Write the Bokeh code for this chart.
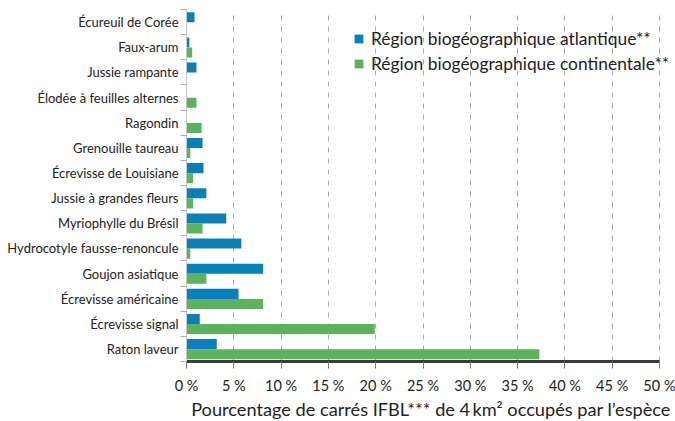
from bokeh.plotting import figure
from bokeh.models import Range1d, FixedTicker, ColumnDataSource, Legend, LegendItem
from bokeh.embed import file_html
from bokeh.resources import INLINE

# Data (top to bottom as in the chart)
species = ["Écureuil de Corée", "Faux-arum", "Jussie rampante", "Élodée à feuilles alternes",
           "Ragondin", "Grenouille taureau", "Écrevisse de Louisiane", "Jussie à grandes fleurs",
           "Myriophylle du Brésil", "Hydrocotyle fausse-renoncule", "Goujon asiatique",
           "Écrevisse américaine", "Écrevisse signal", "Raton laveur"]
atlantique = [0.85, 0.3, 1.05, 0.0, 0.0, 1.7, 1.8, 2.1, 4.2, 5.8, 8.1, 5.5, 1.4, 3.2]
continentale = [0.0, 0.6, 0.0, 1.05, 1.6, 0.4, 0.7, 0.7, 1.7, 0.4, 2.1, 8.1, 19.9, 37.3]
series_names = ["Région biogéographique atlantique**", "Région biogéographique continentale**"]
xticks = [0, 5, 10, 15, 20, 25, 30, 35, 40, 45, 50]
xtick_labels = ["0\u00a0%", "5\u00a0%", "10\u00a0%", "15\u00a0%", "20\u00a0%", "25\u00a0%",
                "30\u00a0%", "35\u00a0%", "40\u00a0%", "45\u00a0%", "50\u00a0%"]
x_title = "Pourcentage de carrés IFBL*** de 4\u2009km² occupés par l’espèce"

FONT = "Lato"
BLUE = "#0a80b8"
GREEN = "#5bb45b"

n = len(species)
ypos = [n - 1 - i for i in range(n)]  # top item highest

src = ColumnDataSource(dict(
    y_a=[y + 0.19 for y in ypos],
    y_c=[y - 0.21 for y in ypos],
    a=atlantique, c=continentale))

# frame extends a little past 50 % so the legend text is not clipped
FW = 489
x_end = 50 * FW / 473

p = figure(frame_width=FW, frame_height=352, output_backend="svg", toolbar_location=None,
           x_range=Range1d(0, x_end), y_range=Range1d(-0.5, n - 0.5),
           min_border_left=186, min_border_right=0, min_border_top=9, min_border_bottom=0)
p.outline_line_color = None
p.background_fill_color = "white"

ra = p.hbar(y="y_a", right="a", left=0, height=0.4, source=src, fill_color=BLUE, line_color=None)
rc = p.hbar(y="y_c", right="c", left=0, height=0.4, source=src, fill_color=GREEN, line_color=None)

# x axis
p.xaxis.bounds = (xticks[0], xticks[-1])
p.xaxis.ticker = FixedTicker(ticks=xticks)
p.xaxis.major_label_overrides = {t: l for t, l in zip(xticks, xtick_labels)}
p.xaxis.axis_line_color = "#3a3a3a"
p.xaxis.axis_line_width = 3
p.xaxis.major_tick_line_color = "#777777"
p.xaxis.major_tick_out = 7
p.xaxis.major_tick_in = 0
p.xaxis.minor_tick_line_color = None
p.xaxis.major_label_text_font = FONT
p.xaxis.major_label_text_font_size = "14.5px"
p.xaxis.major_label_text_color = "#222222"
p.xaxis.major_label_standoff = 8
p.xaxis.axis_label = x_title
p.xaxis.axis_label_text_font = FONT
p.xaxis.axis_label_text_font_size = "18.2px"
p.xaxis.axis_label_text_font_style = "normal"
p.xaxis.axis_label_text_color = "#222222"
p.xaxis.axis_label_standoff = 1

# y axis
p.yaxis.ticker = FixedTicker(ticks=ypos, minor_ticks=[k - 0.5 for k in range(n + 1)])
p.yaxis.major_label_overrides = {y: s for y, s in zip(ypos, species)}
p.yaxis.axis_line_color = "#c8c8c8"
p.yaxis.major_tick_line_color = None
p.yaxis.major_tick_out = 6
p.yaxis.major_tick_in = 0
p.yaxis.minor_tick_line_color = "#b0b0b0"
p.yaxis.minor_tick_out = 6
p.yaxis.minor_tick_in = 0
p.yaxis.major_label_text_font = FONT
p.yaxis.major_label_text_font_size = "13px"
p.yaxis.major_label_text_color = "#222222"
p.yaxis.major_label_standoff = 2

# grids
p.ygrid.grid_line_color = None
p.xgrid.ticker = FixedTicker(ticks=xticks[1:])
p.xgrid.grid_line_color = "#aaaaaa"
p.xgrid.grid_line_dash = "5 6"
p.xgrid.grid_line_width = 1

legend = Legend(items=[LegendItem(label=series_names[0], renderers=[ra]),
                       LegendItem(label=series_names[1], renderers=[rc])],
                location=(167, 287))
legend.border_line_color = None
legend.background_fill_alpha = 0
legend.padding = 0
legend.margin = 0
legend.spacing = 4
legend.glyph_width = 11
legend.glyph_height = 11
legend.label_standoff = 7
legend.label_text_font = FONT
legend.label_text_font_size = "17.4px"
legend.label_text_color = "#222222"
p.add_layout(legend, "center")

open("out.html", "w").write(file_html(p, INLINE))
